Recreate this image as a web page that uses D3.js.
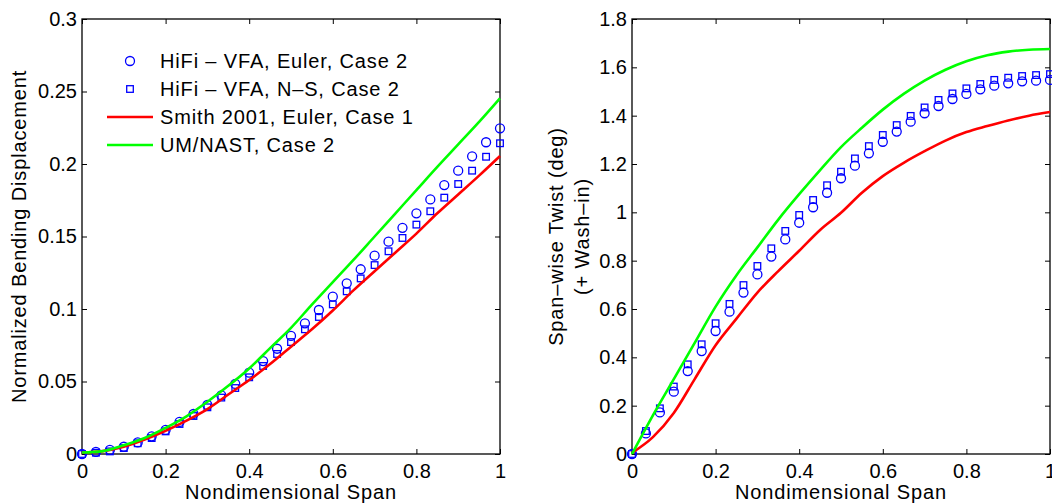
<!DOCTYPE html>
<html>
<head>
<meta charset="utf-8">
<script src="https://cdn.jsdelivr.net/npm/d3@7"></script>
<style>
  body { margin: 0; background: #fff; }
  svg { display: block; font-family: "Liberation Sans", Arial, Helvetica, sans-serif; }
</style>
</head>
<body>
<div id="chart"></div>
<script>
// marker stations along the span (31 points)
const spanPts = [0, 0.0333, 0.0667, 0.1, 0.1333, 0.1667, 0.2, 0.2333, 0.2667, 0.3, 0.3333,
  0.3667, 0.4, 0.4333, 0.4667, 0.5, 0.5333, 0.5667, 0.6, 0.6333, 0.6667, 0.7, 0.7333,
  0.7667, 0.8, 0.8333, 0.8667, 0.9, 0.9333, 0.9667, 1];

// stations for the continuous curves
const lineSpan = [0, 0.05, 0.1, 0.15, 0.2, 0.25, 0.3, 0.35, 0.4, 0.45, 0.5,
  0.55, 0.6, 0.65, 0.7, 0.75, 0.8, 0.85, 0.9, 0.95, 1];

// left panel: normalized bending displacement
const bendEuler = [0, 0.0014, 0.0028, 0.005, 0.008, 0.0122, 0.0166, 0.0221, 0.0276, 0.0338, 0.0405,
  0.0483, 0.0561, 0.0641, 0.0726, 0.0814, 0.0901, 0.0993, 0.1085, 0.1177, 0.1274, 0.1368,
  0.1464, 0.156, 0.166, 0.1756, 0.1855, 0.1954, 0.2053, 0.215, 0.2246];
const bendNS = [0, 0.0009, 0.0018, 0.0041, 0.0074, 0.011, 0.0156, 0.0207, 0.0262, 0.0322, 0.0389,
  0.0455, 0.0529, 0.0607, 0.069, 0.0772, 0.086, 0.0945, 0.1032, 0.1122, 0.1211, 0.1303,
  0.1398, 0.149, 0.1582, 0.1674, 0.1768, 0.1862, 0.1954, 0.205, 0.2143];
const bendSmith = [0.001, 0.002, 0.005, 0.01, 0.016, 0.023, 0.031, 0.041, 0.051, 0.062, 0.074,
  0.086, 0.099, 0.113, 0.126, 0.139, 0.152, 0.166, 0.179, 0.192, 0.2055];
const bendNast = [0.001, 0.002, 0.006, 0.011, 0.018, 0.026, 0.036, 0.047, 0.059, 0.073, 0.087,
  0.103, 0.1185, 0.134, 0.15, 0.166, 0.182, 0.198, 0.2135, 0.229, 0.2453];

// right panel: span-wise twist (deg)
const twistEuler = [0, 0.085, 0.172, 0.258, 0.343, 0.426, 0.509, 0.589, 0.668, 0.743, 0.817,
  0.888, 0.957, 1.021, 1.081, 1.141, 1.193, 1.244, 1.292, 1.334, 1.375, 1.41, 1.44, 1.469,
  1.49, 1.509, 1.524, 1.534, 1.542, 1.545, 1.548];
const twistNS = [0, 0.095, 0.189, 0.279, 0.371, 0.454, 0.541, 0.621, 0.699, 0.778, 0.851,
  0.923, 0.989, 1.051, 1.112, 1.168, 1.223, 1.274, 1.32, 1.361, 1.399, 1.434, 1.465, 1.492,
  1.513, 1.531, 1.548, 1.557, 1.564, 1.568, 1.572];
const twistSmith = [0.005, 0.07, 0.17, 0.31, 0.45, 0.56, 0.668, 0.757, 0.841, 0.927, 0.998,
  1.081, 1.15, 1.205, 1.253, 1.297, 1.332, 1.357, 1.38, 1.4, 1.415];
const twistNast = [0, 0.16, 0.31, 0.46, 0.61, 0.74, 0.855, 0.97, 1.075, 1.175, 1.27,
  1.35, 1.425, 1.49, 1.545, 1.59, 1.625, 1.65, 1.665, 1.673, 1.676];

const xTicks = [0, 0.2, 0.4, 0.6, 0.8, 1];
const yTicksLeft = [0, 0.05, 0.1, 0.15, 0.2, 0.25, 0.3];
const yTicksRight = [0, 0.2, 0.4, 0.6, 0.8, 1, 1.2, 1.4, 1.6, 1.8];

const legendLabels = ['HiFi \u2013 VFA, Euler, Case 2', 'HiFi \u2013 VFA, N\u2013S, Case 2',
  'Smith 2001, Euler, Case 1', 'UM/NAST, Case 2'];

const width = 1052;
const height = 504;
const tickFont = 20;
const labelFont = 20;
const spacing = '0.85px';

const svg = d3.select('#chart')
  .append('svg')
  .attr('width', width)
  .attr('height', height);

svg.append('rect').attr('width', width).attr('height', height).attr('fill', '#fff');

function panel(opts) {
  const { left, right, top, bottom } = opts;
  const x = d3.scaleLinear().domain([0, 1]).range([left, right]);
  const y = d3.scaleLinear().domain(opts.yDomain).range([bottom, top]);
  const fmt = d3.format('~g');

  const g = svg.append('g');

  // axes with inward ticks, MATLAB style box
  const xa = g.append('g')
    .attr('transform', `translate(0,${bottom})`)
    .call(d3.axisBottom(x).tickValues(xTicks).tickFormat(fmt)
      .tickSizeInner(-5).tickSizeOuter(0).tickPadding(10));
  const ya = g.append('g')
    .attr('transform', `translate(${left},0)`)
    .call(d3.axisLeft(y).tickValues(opts.yTicks).tickFormat(fmt)
      .tickSizeInner(-5).tickSizeOuter(0).tickPadding(5));
  g.append('g')
    .attr('transform', `translate(0,${top})`)
    .call(d3.axisTop(x).tickValues(xTicks).tickFormat('')
      .tickSizeInner(-5).tickSizeOuter(0));
  g.append('g')
    .attr('transform', `translate(${right},0)`)
    .call(d3.axisRight(y).tickValues(opts.yTicks).tickFormat('')
      .tickSizeInner(-5).tickSizeOuter(0));

  g.selectAll('.domain').remove();
  g.selectAll('.tick line').attr('stroke', '#000').attr('stroke-width', 1);
  [xa, ya].forEach(a => a.selectAll('text')
    .style('font-size', `${tickFont}px`)
    .style('font-family', '"Liberation Sans", Arial, sans-serif')
    .attr('fill', '#000'));

  g.append('rect')
    .attr('x', left).attr('y', top)
    .attr('width', right - left).attr('height', bottom - top)
    .attr('fill', 'none').attr('stroke', '#000').attr('stroke-width', 1.3);

  // markers
  g.append('g').selectAll('circle')
    .data(opts.circles)
    .enter()
    .append('circle')
    .attr('cx', (d, i) => x(spanPts[i]))
    .attr('cy', d => y(d))
    .attr('r', 4.5)
    .attr('fill', 'none')
    .attr('stroke', '#0000ff')
    .attr('stroke-width', 1.3);

  g.append('g').selectAll('rect')
    .data(opts.squares)
    .enter()
    .append('rect')
    .attr('x', (d, i) => x(spanPts[i]) - 3.3)
    .attr('y', d => y(d) - 3.3)
    .attr('width', 6.6)
    .attr('height', 6.6)
    .attr('fill', 'none')
    .attr('stroke', '#0000ff')
    .attr('stroke-width', 1.3);

  const line = d3.line()
    .x((d, i) => x(lineSpan[i]))
    .y(d => y(d))
    .curve(d3.curveMonotoneX);

  g.append('path').datum(opts.red)
    .attr('d', line).attr('fill', 'none')
    .attr('stroke', '#ff0000').attr('stroke-width', 2.6);
  g.append('path').datum(opts.green)
    .attr('d', line).attr('fill', 'none')
    .attr('stroke', '#00ff00').attr('stroke-width', 2.6);

  // axis titles
  g.append('text')
    .attr('x', (left + right) / 2)
    .attr('y', 499)
    .attr('text-anchor', 'middle')
    .style('font-size', `${labelFont}px`)
    .style('letter-spacing', spacing)
    .text('Nondimensional Span');

  opts.yTitle.forEach((t, k) => {
    g.append('text')
      .attr('transform', `translate(${opts.yTitleX[k]},${(top + bottom) / 2}) rotate(-90)`)
      .attr('text-anchor', 'middle')
      .style('font-size', `${labelFont}px`)
      .style('letter-spacing', spacing)
      .text(t);
  });
}

panel({
  left: 82, right: 500, top: 19, bottom: 454,
  yDomain: [0, 0.3], yTicks: yTicksLeft,
  circles: bendEuler, squares: bendNS, red: bendSmith, green: bendNast,
  yTitle: ['Normalized Bending Displacement'], yTitleX: [26]
});

panel({
  left: 632, right: 1050, top: 19, bottom: 454,
  yDomain: [0, 1.8], yTicks: yTicksRight,
  circles: twistEuler, squares: twistNS, red: twistSmith, green: twistNast,
  yTitle: ['Span\u2013wise Twist (deg)', '(+ Wash\u2013in)'], yTitleX: [563, 589]
});

// legend (left panel, no box)
const legend = svg.append('g');
const rowY = [61, 89, 117, 145];
legend.append('circle')
  .attr('cx', 130).attr('cy', rowY[0]).attr('r', 4.5)
  .attr('fill', 'none').attr('stroke', '#0000ff').attr('stroke-width', 1.3);
legend.append('rect')
  .attr('x', 130 - 3.3).attr('y', rowY[1] - 3.3).attr('width', 6.6).attr('height', 6.6)
  .attr('fill', 'none').attr('stroke', '#0000ff').attr('stroke-width', 1.3);
legend.append('line')
  .attr('x1', 107).attr('x2', 153).attr('y1', rowY[2]).attr('y2', rowY[2])
  .attr('stroke', '#ff0000').attr('stroke-width', 2.6);
legend.append('line')
  .attr('x1', 107).attr('x2', 153).attr('y1', rowY[3]).attr('y2', rowY[3])
  .attr('stroke', '#00ff00').attr('stroke-width', 2.6);
legend.selectAll('text.lab')
  .data(legendLabels)
  .enter()
  .append('text')
  .attr('class', 'lab')
  .attr('x', 160)
  .attr('y', (d, i) => rowY[i] + 7)
  .style('font-size', `${labelFont}px`)
  .style('letter-spacing', spacing)
  .text(d => d);
</script>
</body>
</html>
